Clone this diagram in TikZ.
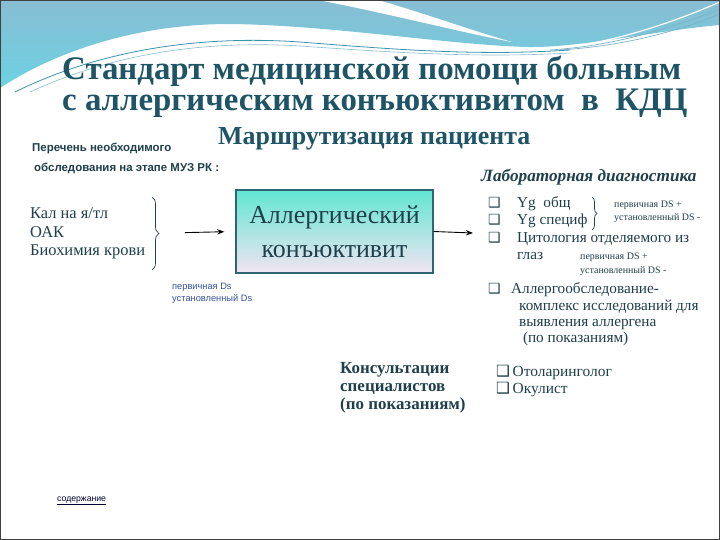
\documentclass[tikz,border=0pt]{standalone}
\usepackage{fontspec}
\setmainfont{Liberation Serif}
\setsansfont{Liberation Sans}
\newfontfamily\symfont{DejaVu Sans}
\usetikzlibrary{arrows.meta,decorations.pathreplacing}
\definecolor{titleteal}{HTML}{1E5466}
\definecolor{darktext}{HTML}{1F3F4A}
\definecolor{dsblue}{HTML}{3552A0}
\definecolor{boxline}{HTML}{2E6474}
\definecolor{boxtop}{HTML}{62E6D2}
\definecolor{boxmid}{HTML}{84B8F4}
\definecolor{boxbot}{HTML}{F2E4F2}
\definecolor{wavetop}{HTML}{88BDD3}
\definecolor{wavebot}{HTML}{6CD2E2}
\definecolor{waveline}{HTML}{3E93AC}
\newcommand{\qbox}{{\symfont\char"2751}}

\begin{document}
\begin{tikzpicture}[x=1bp, y=-1bp, >=Stealth,
  every node/.style={inner sep=0pt, anchor=base west, text=darktext},
  ttl/.style={font=\bfseries\fontsize{33}{32}\selectfont, text=titleteal, align=left},
  small/.style={font=\sffamily\bfseries\fontsize{11.5}{12}\selectfont},
  item/.style={font=\fontsize{15.3}{16}\selectfont},
  bul/.style={font=\fontsize{14}{14}\selectfont},
  tiny/.style={font=\fontsize{10}{14}\selectfont},
  dsnote/.style={font=\sffamily\fontsize{9.3}{12}\selectfont, text=dsblue, align=left},
  dxbox/.style={draw=boxline, line width=2.2pt, anchor=center, minimum width=197, minimum height=83,
    top color=boxtop, middle color=boxmid, bottom color=boxbot, align=center,
    font=\fontsize{26}{34}\selectfont},
  brc/.style={decorate, decoration={brace, amplitude=7pt}, line width=0.7pt, draw=darktext}]
\useasboundingbox (0,0) rectangle (720,540);
\fill[white] (0,0) rectangle (720,540);
\shade[top color=wavetop, bottom color=wavebot] (0,0) -- (720,0) -- (720,25)
  .. controls (660,30) and (580,48) .. (527,47) .. controls (450,45) and (330,25) .. (230,24)
  .. controls (130,24) and (50,55) .. (0,88) -- cycle;
\fill[white] (318,0) -- (378,0) .. controls (420,12) and (470,30) .. (512,42)
  .. controls (460,32) and (390,14) .. (318,0);
\draw[white, line width=1.2pt] (720,2) .. controls (660,28) and (600,46) .. (540,50);
\draw[waveline!70, line width=0.7pt] (720,9) .. controls (660,32) and (610,46) .. (550,50);
\draw[waveline!70, line width=0.7pt] (720,14) .. controls (670,34) and (620,46) .. (560,50);
\draw[waveline, line width=0.8pt] (15,92) .. controls (100,50) and (200,35) .. (300,42)
  .. controls (400,50) and (480,56) .. (570,50);
\draw[waveline!60, line width=0.6pt] (30,92) .. controls (110,55) and (200,40) .. (300,46)
  .. controls (400,53) and (480,58) .. (570,53);
\draw[line width=1.5pt, draw=black!75] (0.75,0.75) rectangle (719.25,539.25);

\node[ttl] (title) at (62,111) {Стандарт медицинской помощи больным\\с аллергическим конъюктивитом\ \ в\ \ КДЦ};
\node[font=\bfseries\fontsize{26}{28}\selectfont, text=titleteal] (route) at (218,145) {Маршрутизация пациента};
\node[small] (list1) at (32,152) {Перечень необходимого};
\node[small] (list2) at (34,172) {обследования на этапе МУЗ РК :};
\node[font=\fontsize{16.5}{19}\selectfont, align=left] (tests) at (30,256) {Кал на я/тл\\ОАК\\Биохимия крови};
\coordinate (lb1) at (152,197);
\coordinate (lb2) at (152,270);
\coordinate (ltip) at (167,233);
\draw[brc] (lb1) -- (lb2);
\node[dxbox] (dx) at (334.5,231.5) {Аллергический\\конъюктивит};
\draw[->, line width=0.9pt, shorten <=18, shorten >=11] (ltip) -- (dx.west);
\coordinate (lab) at (473,233);
\draw[->, line width=0.9pt] (dx.east) -- (lab);
\node[dsnote] (ds1) at (172,301) {первичная Ds\\установленный Ds};

\node[font=\itshape\bfseries\fontsize{17.3}{18}\selectfont] (labt) at (481,182) {Лабораторная диагностика};
\node[bul] (b1) at (488,208) {\qbox};
\node[bul] (b2) at (488,225) {\qbox};
\node[bul] (b3) at (488,243) {\qbox};
\node[item] (yg1) at (517,208) {Yg\ \ общ};
\node[item] (yg2) at (517,225) {Yg специф};
\coordinate (rb1) at (592,197);
\coordinate (rb2) at (592,230);
\draw[brc, decoration={brace, amplitude=5pt}] (rb1) -- (rb2);
\node[tiny, align=left] (ds2) at (614,221) {первичная DS +\\установленный DS -};
\node[item] (cyt) at (517,243) {Цитология отделяемого из};
\node[item] (cyt2) at (517,260) {глаз};
\node[tiny] (ds3) at (580,260) {первичная DS +};
\node[tiny] (ds4) at (580,274) {установленный DS -};
\node[bul] (b4) at (488,293) {\qbox};
\node[item] (alg) at (511,293) {Аллергообследование-};
\node[font=\fontsize{15.3}{16}\selectfont, align=left] (alg2) at (519,342) {комплекс исследований для\\выявления аллергена\\\ (по показаниям)};

\node[font=\bfseries\fontsize{17}{18}\selectfont, align=left] (cons) at (340,409) {Консультации\\специалистов\\(по показаниям)};
\node[font=\fontsize{15.5}{17}\selectfont, align=left] (spec) at (496,393) {\qbox\,Отоларинголог\\\qbox\,Окулист};
\node[font=\sffamily\fontsize{8.7}{9}\selectfont, text=black!80!blue] (toc) at (57,501) {\underline{содержание}};
\end{tikzpicture}
\end{document}
